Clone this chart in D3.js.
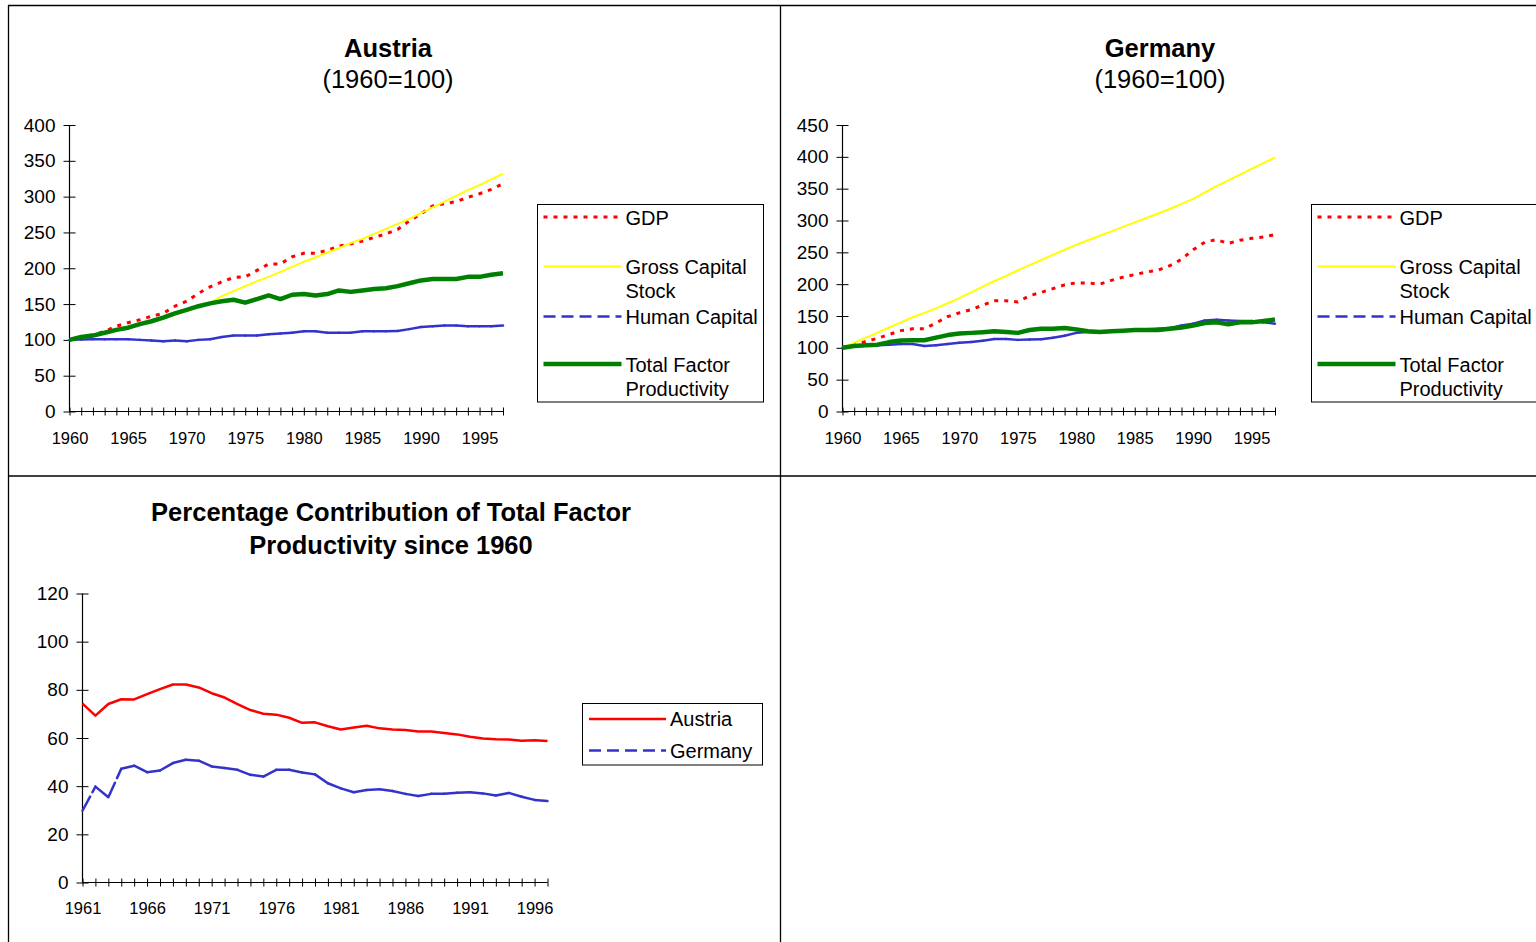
<!DOCTYPE html>
<html>
<head>
<meta charset="utf-8">
<script src="https://cdn.jsdelivr.net/npm/d3@7"></script>
<style>
  html, body { margin: 0; padding: 0; background: #fff; }
  svg { display: block; font-family: "Liberation Sans", Arial, sans-serif; }
</style>
</head>
<body>
<svg id="chart" width="1536" height="942"></svg>
<script>
// ---------- DATA ----------
const yearsTop = d3.range(1960, 1998);          // 1960..1997
const yearsBottom = d3.range(1961, 1998);       // 1961..1997

const austriaGDP = [100,104,107,112,119,124,128,133,137,147,154,165,174,181,187,188,197,206,206,216,221,221,225,231,234,238,243,248,254,266,276,287,290,293,299,304,310,318];
const austriaCapital = [100,103,106,109,113,117,121,125,130,135,141,146,152,161,168,175,182,188,195,202,209,215,222,228,235,241,248,255,262,269,277,285,293,301,309,316,324,332];
const austriaHuman = [100,100.5,101,101,101,101,100,99,98,99,98,100,101,104,106,106,106,108,109,110,112,112,110,110,110,112,112,112,112.5,115,118,119,120,120,119,119,119,120];
const austriaTFP = [100,104,106,110,114,117,122,126,131,137,142,147,151,154,156,152,157,162,157,163,164,162,164,169,167,169,171,172,175,179,183,185,185,185,188,188,191,193];

const germanyGDP = [100,105,110,115,121,127,130,130,139,149,155,160,167,174,174,172,182,187,193,199,202,202,200,206,211,215,219,222,229,239,254,266,270,264,269,272,274,278];
const germanyCapital = [100,108,116,124,132,140,148,155,162,170,178,187,196,205,213,222,230,238,246,254,262,269,276,283,290,297,304,311,318,326,334,344,354,363,372,381,390,399];
const germanyHuman = [100,103,104,104,105,106,106,103,104,106,108,109,111,114,114,112.5,113,113.6,116,119,123.5,125,125,125.6,127,128,129,130,131,135,138,143,144,143,142,142,140,138];
const germanyTFP = [100,103,104,105,109,111.5,112,112,116,120,122.5,123.5,124.6,126,125,123.5,128,130,130,131,129,126,125,126,127,128,128,128,130,132,135,139,140,137,140,140,142,144.5];

const austriaContrib = [74.3,69.3,74.1,76.1,76,78.2,80.3,82.2,82.2,81,78.6,76.8,74.1,71.6,70.1,69.7,68.4,66.3,66.5,64.9,63.5,64.4,65.1,64,63.5,63.3,62.7,62.7,62.1,61.5,60.5,59.8,59.5,59.4,58.9,59.1,58.8];
const germanyContrib = [29.8,39.8,35.4,47.2,48.5,45.8,46.5,49.6,51,50.6,48.2,47.5,46.8,44.7,44,46.8,46.8,45.7,44.9,41.2,39.1,37.5,38.4,38.7,38,36.8,35.9,36.8,36.9,37.3,37.5,37,36.1,37.2,35.6,34.3,33.8];

const austriaYTicks = [0,50,100,150,200,250,300,350,400];
const germanyYTicks = [0,50,100,150,200,250,300,350,400,450];
const contribYTicks = [0,20,40,60,80,100,120];
const topXLabels = [1960,1965,1970,1975,1980,1985,1990,1995];
const bottomXLabels = [1961,1966,1971,1976,1981,1986,1991,1996];

const seriesNames = ["GDP", "Gross Capital Stock", "Human Capital", "Total Factor Productivity"];
const contribNames = ["Austria", "Germany"];

// ---------- STYLES ----------
const styles = {
  gdp:   {stroke: "#ff0000", width: 3,   dash: "4,6", perSeg: false},
  cap:   {stroke: "#ffff00", width: 2,   dash: null,  perSeg: false},
  hum:   {stroke: "#3333cc", width: 2.5, dash: "16,5", perSeg: true, legendDash: "12,6"},
  tfp:   {stroke: "#008000", width: 4.5, dash: null,  perSeg: false},
  aut:   {stroke: "#ff0000", width: 2.5, dash: null,  perSeg: false},
  ger:   {stroke: "#3333cc", width: 2.5, dash: "16,5", perSeg: true, legendDash: "12,6"}
};

const svg = d3.select("#chart");

// ---------- PANEL BORDERS ----------
const borders = svg.append("g").attr("stroke", "#000").attr("stroke-width", 1.3);
borders.append("line").attr("x1", 8).attr("x2", 1536).attr("y1", 5.5).attr("y2", 5.5);
borders.append("line").attr("x1", 8.5).attr("x2", 8.5).attr("y1", 5).attr("y2", 942);
borders.append("line").attr("x1", 780.5).attr("x2", 780.5).attr("y1", 5).attr("y2", 942);
borders.append("line").attr("x1", 8).attr("x2", 1536).attr("y1", 476).attr("y2", 476);

function drawSeries(g, xs, vals, x, y, st) {
  const pts = xs.map((d, i) => [x(d), y(vals[i])]);
  if (st.perSeg) {
    for (let i = 0; i < pts.length - 1; i++) {
      g.append("line")
        .attr("x1", pts[i][0]).attr("y1", pts[i][1])
        .attr("x2", pts[i+1][0]).attr("y2", pts[i+1][1])
        .attr("stroke", st.stroke).attr("stroke-width", st.width)
        .attr("stroke-dasharray", st.dash).attr("stroke-linecap", "round");
    }
  } else {
    g.append("path")
      .attr("d", d3.line()(pts))
      .attr("fill", "none")
      .attr("stroke", st.stroke).attr("stroke-width", st.width)
      .attr("stroke-dasharray", st.dash)
      .attr("stroke-linejoin", "round");
  }
}

function drawAxes(g, x, y, xDomainVals, xLabels, yTicks, xLabelOffset) {
  const y0 = y(0);
  const ya = g.append("g").attr("transform", `translate(${x.range()[0]},0)`)
    .call(d3.axisLeft(y).tickValues(yTicks).tickSize(6).tickPadding(9).tickFormat(d3.format("d")));
  ya.select(".domain").attr("stroke", "#000").attr("stroke-width", 1.2).attr("d", `M0,${y.range()[1]}V${y0}`);
  ya.selectAll(".tick line").attr("x1", -6).attr("x2", 6).attr("stroke", "#000");
  ya.selectAll(".tick text").attr("font-size", "19px").attr("fill", "#000").attr("x", -14)
    .attr("font-family", '"Liberation Sans", Arial, sans-serif');
  const xa = g.append("g").attr("transform", `translate(0,${y0})`)
    .call(d3.axisBottom(x).tickValues(xDomainVals).tickSize(4)
      .tickFormat(d => xLabels.includes(d) ? String(d) : ""));
  xa.select(".domain").attr("stroke", "#000").attr("stroke-width", 1.2).attr("d", `M${x.range()[0]},0H${x.range()[1]}`);
  xa.selectAll(".tick line").attr("y1", -4).attr("y2", 4).attr("stroke", "#000");
  xa.selectAll(".tick text").attr("font-size", "16.5px").attr("fill", "#000")
    .attr("y", xLabelOffset).attr("dy", "0.35em")
    .attr("font-family", '"Liberation Sans", Arial, sans-serif');
}

function drawTitle(cx, lines) {
  const t = svg.append("g");
  lines.forEach(l => {
    t.append("text").attr("x", cx).attr("y", l.y).attr("text-anchor", "middle")
      .attr("font-size", "25.5px").attr("font-weight", l.bold ? "bold" : "normal")
      .attr("fill", "#000").text(l.text);
  });
}

function drawLegend(box, entries) {
  const g = svg.append("g");
  g.append("rect").attr("x", box.x).attr("y", box.y).attr("width", box.w).attr("height", box.h)
    .attr("fill", "#fff").attr("stroke", "#000").attr("stroke-width", 1);
  entries.forEach(e => {
    g.append("line").attr("x1", box.lx1).attr("x2", box.lx2).attr("y1", e.ly).attr("y2", e.ly)
      .attr("stroke", e.st.stroke).attr("stroke-width", e.st.width)
      .attr("stroke-dasharray", e.st.legendDash || e.st.dash);
    e.lines.forEach((txt, k) => {
      g.append("text").attr("x", box.tx).attr("y", e.ty + k * 23.5).attr("dy", "0.35em")
        .attr("font-size", "20px").attr("fill", "#000").text(txt);
    });
  });
}

// ---------- TOP CHARTS ----------
function topChart(cfg) {
  const g = svg.append("g");
  const x = d3.scaleLinear().domain([1960, 1997]).range([cfg.x0, cfg.x1]);
  const y = d3.scaleLinear().domain([0, cfg.ymax]).range([411.5, 125]);
  drawAxes(g, x, y, yearsTop, topXLabels, cfg.yTicks, 26.5);
  const lines = g.append("g");
  drawSeries(lines, yearsTop, cfg.gdp, x, y, styles.gdp);
  drawSeries(lines, yearsTop, cfg.cap, x, y, styles.cap);
  drawSeries(lines, yearsTop, cfg.hum, x, y, styles.hum);
  drawSeries(lines, yearsTop, cfg.tfp, x, y, styles.tfp);
  drawTitle(cfg.cx, [{text: cfg.title, y: 57, bold: true}, {text: "(1960=100)", y: 88, bold: false}]);
  const bx = cfg.legendX;
  drawLegend({x: bx, y: 204.5, w: 226, h: 197.5, lx1: bx + 6, lx2: bx + 84, tx: bx + 88}, [
    {st: styles.gdp, ly: 217, ty: 218, lines: [seriesNames[0]]},
    {st: styles.cap, ly: 266.5, ty: 267, lines: ["Gross Capital", "Stock"]},
    {st: styles.hum, ly: 316.5, ty: 316.5, lines: [seriesNames[2]]},
    {st: styles.tfp, ly: 364, ty: 365, lines: ["Total Factor", "Productivity"]}
  ]);
}

topChart({x0: 69.5, x1: 503, ymax: 400, yTicks: austriaYTicks, title: "Austria", cx: 388,
  gdp: austriaGDP, cap: austriaCapital, hum: austriaHuman, tfp: austriaTFP, legendX: 537.5});
topChart({x0: 842.5, x1: 1275, ymax: 450, yTicks: germanyYTicks, title: "Germany", cx: 1160,
  gdp: germanyGDP, cap: germanyCapital, hum: germanyHuman, tfp: germanyTFP, legendX: 1311.5});

// ---------- BOTTOM CHART ----------
(function() {
  const g = svg.append("g");
  const x = d3.scaleLinear().domain([1961, 1997]).range([82.5, 547.5]);
  const y = d3.scaleLinear().domain([0, 120]).range([882.5, 593.5]);
  drawAxes(g, x, y, yearsBottom, bottomXLabels, contribYTicks, 25.5);
  drawSeries(g, yearsBottom, austriaContrib, x, y, styles.aut);
  drawSeries(g, yearsBottom, germanyContrib, x, y, styles.ger);
  drawTitle(391, [{text: "Percentage Contribution of Total Factor", y: 521, bold: true},
                  {text: "Productivity since 1960", y: 554, bold: true}]);
  drawLegend({x: 582.5, y: 703.5, w: 180, h: 61.5, lx1: 589, lx2: 666, tx: 670}, [
    {st: styles.aut, ly: 719, ty: 719, lines: [contribNames[0]]},
    {st: styles.ger, ly: 750.5, ty: 750.5, lines: [contribNames[1]]}
  ]);
})();
</script>
</body>
</html>
